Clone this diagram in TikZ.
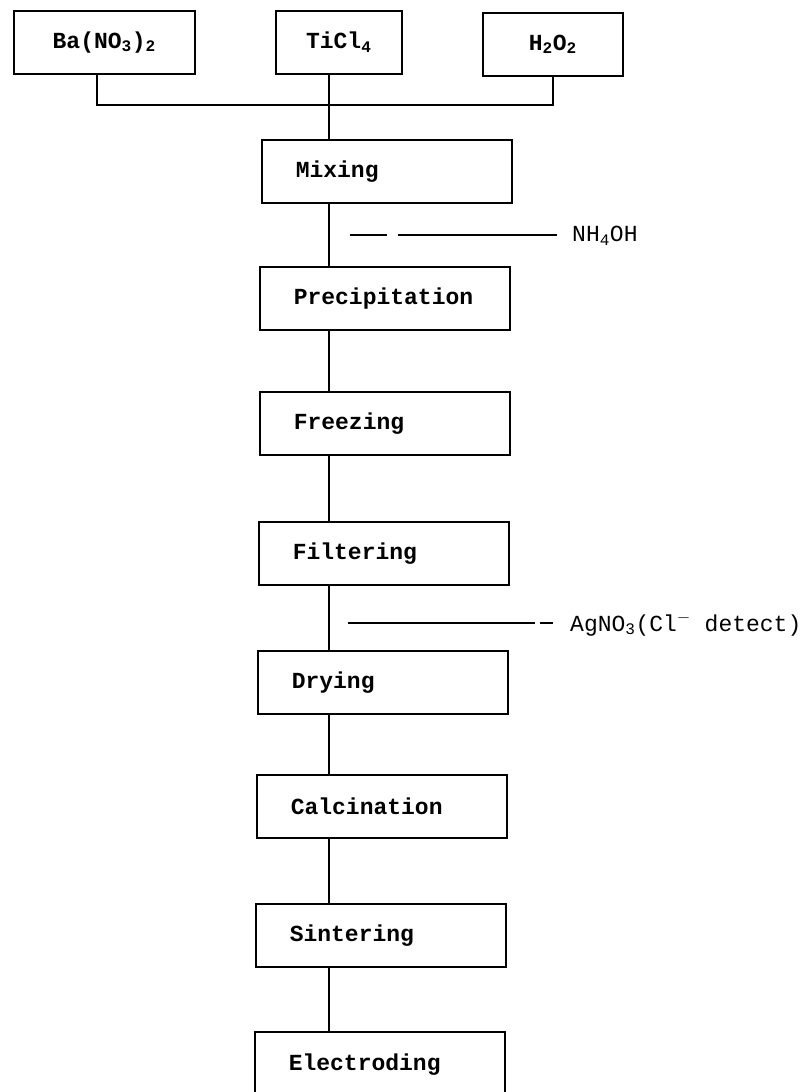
\documentclass[tikz,border=0pt]{standalone}
\usepackage{fontspec}
\newfontfamily\flowfont{Liberation Mono}
\usetikzlibrary{calc}

\tikzset{
  stage/.style={draw, line width=1.5pt, anchor=north west, minimum width=250pt,
    minimum height=63pt, text width=182pt, inner xsep=34pt, align=left,
    font=\flowfont\bfseries\fontsize{23}{27}\selectfont},
  source/.style={draw, line width=1.5pt, anchor=north west, minimum height=63pt,
    inner sep=0pt, font=\flowfont\bfseries\fontsize{23}{27}\selectfont},
  addtext/.style={anchor=west, inner sep=0pt, font=\flowfont\fontsize{23}{27}\selectfont},
  link/.style={line width=2pt},
  feed/.style={line width=1.3pt}
}

\begin{document}
\begin{tikzpicture}[x=1pt, y=-1pt]
        \useasboundingbox (0,0) rectangle (803,1092);

        % Starting chemicals
        \node[source, minimum width=181pt] (ba) at (13,10) {Ba(NO\textsubscript{3})\textsubscript{2}};
        \node[source, minimum width=126pt] (ti) at (275,10) {TiCl\textsubscript{4}};
        \node[source, minimum width=140pt] (hp) at (482,12) {H\textsubscript{2}O\textsubscript{2}};

        % Process steps
        \node[stage] (mix) at (261,139) {Mixing};
        \node[stage] (prec) at (259,266) {Precipitation};
        \node[stage] (frz) at (259,391) {Freezing};
        \node[stage] (filt) at (258,521) {Filtering};
        \node[stage] (dry) at (257,650) {Drying};
        \node[stage] (calc) at (256,774) {Calcination};
        \node[stage] (sint) at (255,903) {Sintering};
        \node[stage, minimum height=66pt] (elec) at (254,1031) {Electroding};

        % Line joining the chemicals
        \coordinate (spine) at (329,0);
        \coordinate (join) at (329,105);
        \draw[link] ([xshift=-7pt]ba.south) |- (hp.south |- join) -- (hp.south);
        \draw[link] (ti.south -| spine) -- (mix.north -| spine);

        % Steps one after another
        \draw[link] (mix.south -| spine) -- (prec.north -| spine);
        \draw[link] (prec.south -| spine) -- (frz.north -| spine);
        \draw[link] (frz.south -| spine) -- (filt.north -| spine);
        \draw[link] (filt.south -| spine) -- (dry.north -| spine);
        \draw[link] (dry.south -| spine) -- (calc.north -| spine);
        \draw[link] (calc.south -| spine) -- (sint.north -| spine);
        \draw[link] (sint.south -| spine) -- (elec.north -| spine);

        % NH4OH added
        \node[addtext] (nh) at (572,236) {NH\textsubscript{4}OH};
        \coordinate (nhstart) at (350,235);
        \draw[feed] (nhstart) -- ++(37,0) ++(11,0) -- ([xshift=-15pt]nh.west |- nhstart);

        % AgNO3 check
        \node[addtext] (ag) at (570,624) {AgNO\textsubscript{3}(Cl\textsuperscript{$-$} detect)};
        \coordinate (agstart) at (348,623);
        \draw[feed] (agstart) -- ++(187,0) ++(5,0) -- ([xshift=-17pt]ag.west |- agstart);

\end{tikzpicture}
\end{document}
